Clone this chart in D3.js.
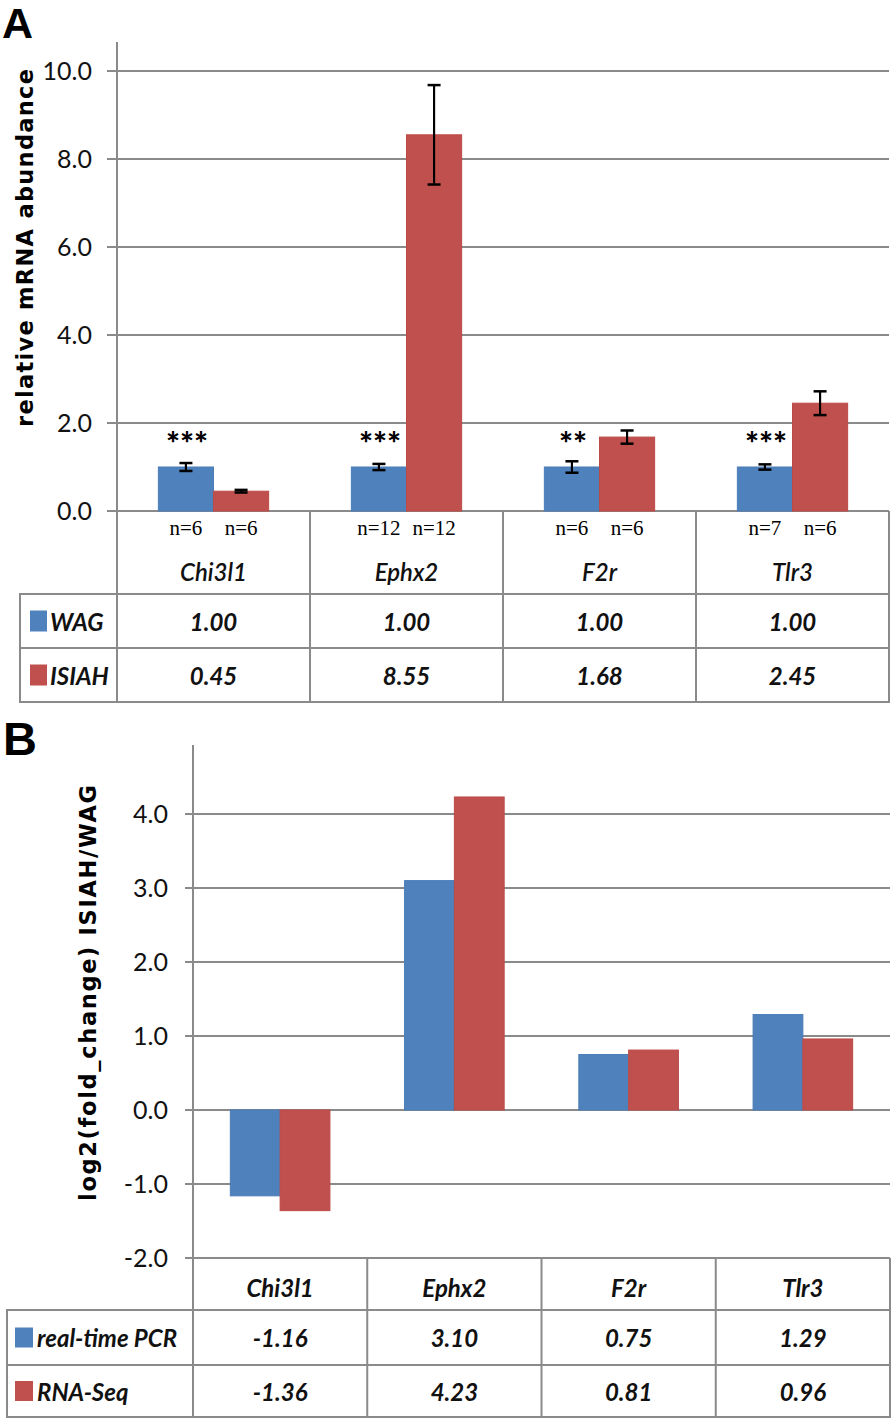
<!DOCTYPE html>
<html>
<head>
<meta charset="utf-8">
<script src="https://cdn.jsdelivr.net/npm/d3@7"></script>
<style>
  html, body { margin: 0; padding: 0; background: #fff; }
  svg { display: block; }
</style>
</head>
<body>
<svg id="chart" width="894" height="1422"></svg>
<script>
// ---------------- data ----------------
const genes = ["Chi3l1", "Ephx2", "F2r", "Tlr3"];
// Panel A: relative mRNA abundance
const wagValues = [1.00, 1.00, 1.00, 1.00];
const isiahValues = [0.45, 8.55, 1.68, 2.45];
const wagErr = [0.09, 0.07, 0.13, 0.06];
const isiahErr = [0.03, 1.13, 0.15, 0.27];
const wagN = [6, 12, 6, 7];
const isiahN = [6, 12, 6, 6];
const significance = ["***", "***", "**", "***"];
const ticksA = [0, 2, 4, 6, 8, 10];
const seriesA = ["WAG", "ISIAH"];
// Panel B: log2(fold change)
const pcrValues = [-1.16, 3.10, 0.75, 1.29];
const rnaSeqValues = [-1.36, 4.23, 0.81, 0.96];
const ticksB = [-2, -1, 0, 1, 2, 3, 4];
const seriesB = ["real-time PCR", "RNA-Seq"];

// ---------------- style ----------------
const BLUE = "#4F81BD", BLUE_S = "#4A7DB8";
const RED = "#C0504D", RED_S = "#BC4A47";
const GRID = "#8a8a8a";
const FONT = "Lato, 'Open Sans', sans-serif";
const LABELFONT = "'DejaVu Sans', Verdana, sans-serif";
const TFS = 24; // table font size

const svg = d3.select("#chart");
svg.append("rect").attr("width", 894).attr("height", 1422).attr("fill", "#fff");

// =============== PANEL A ===============
const A = { left: 117, right: 889, top: 42, tableL: 20, hdrBot: 594, row2: 648, bottom: 702 };
const yA = d3.scaleLinear().domain([0, 10]).range([511, 71]);
const xA = d3.scaleBand().domain(genes).range([A.left, A.right]);
const bwA = xA.bandwidth() / 3.5;

svg.append("text").text("A").attr("x", 2).attr("y", 38)
  .attr("font-family", "'Liberation Sans', Arial, sans-serif").attr("font-weight", "bold")
  .attr("font-size", 43).attr("fill", "#000");

const gA = svg.append("g");
gA.selectAll("line.grid").data(ticksA).join("line")
  .attr("x1", A.left - 10).attr("x2", A.right)
  .attr("y1", d => yA(d)).attr("y2", d => yA(d))
  .attr("stroke", GRID).attr("stroke-width", 2);
const axA = gA.append("g").attr("transform", `translate(${A.left},0)`)
  .call(d3.axisLeft(yA).tickValues(ticksA).tickSize(0).tickPadding(25).tickFormat(d => d.toFixed(1)));
axA.select(".domain").remove();
axA.selectAll("text").attr("font-family", FONT).attr("font-size", 25).attr("fill", "#111");

svg.append("text").text("relative mRNA abundance")
  .attr("transform", "translate(25,248) rotate(-90)")
  .attr("text-anchor", "middle").attr("dominant-baseline", "central")
  .attr("font-family", LABELFONT).attr("font-weight", "bold").attr("font-size", 22.5)
  .attr("textLength", 358).attr("lengthAdjust", "spacing").attr("fill", "#000");

const barsA = genes.map((g, i) => ({ g, i }));
gA.selectAll("rect.wag").data(barsA).join("rect")
  .attr("x", d => xA(d.g) + xA.bandwidth() / 2 - bwA).attr("width", bwA)
  .attr("y", d => yA(wagValues[d.i])).attr("height", d => yA(0) - yA(wagValues[d.i]))
  .attr("fill", BLUE).attr("stroke", BLUE_S).attr("stroke-width", 1);
gA.selectAll("rect.isiah").data(barsA).join("rect")
  .attr("x", d => xA(d.g) + xA.bandwidth() / 2).attr("width", bwA)
  .attr("y", d => yA(isiahValues[d.i])).attr("height", d => yA(0) - yA(isiahValues[d.i]))
  .attr("fill", RED).attr("stroke", RED_S).attr("stroke-width", 1);

const errData = [];
genes.forEach((g, i) => {
  errData.push({ cx: xA(g) + xA.bandwidth() / 2 - bwA / 2, v: wagValues[i], e: wagErr[i] });
  errData.push({ cx: xA(g) + xA.bandwidth() / 2 + bwA / 2, v: isiahValues[i], e: isiahErr[i] });
});
const eg = gA.selectAll("g.err").data(errData).join("g");
eg.append("line").attr("x1", d => d.cx).attr("x2", d => d.cx)
  .attr("y1", d => yA(d.v + d.e)).attr("y2", d => yA(d.v - d.e))
  .attr("stroke", "#000").attr("stroke-width", 2.2);
eg.append("line").attr("x1", d => d.cx - 6.5).attr("x2", d => d.cx + 6.5)
  .attr("y1", d => yA(d.v + d.e)).attr("y2", d => yA(d.v + d.e))
  .attr("stroke", "#000").attr("stroke-width", 2.5);
eg.append("line").attr("x1", d => d.cx - 6.5).attr("x2", d => d.cx + 6.5)
  .attr("y1", d => yA(d.v - d.e)).attr("y2", d => yA(d.v - d.e))
  .attr("stroke", "#000").attr("stroke-width", 2.5);

gA.selectAll("text.sig").data(barsA).join("text")
  .text(d => significance[d.i])
  .attr("x", d => xA(d.g) + xA.bandwidth() / 2 - bwA / 2 + 1)
  .attr("y", d => yA(wagValues[d.i]) - 12)
  .attr("text-anchor", "middle")
  .attr("font-family", FONT).attr("font-weight", "900").attr("font-size", 33).attr("fill", "#000");

const nData = [];
genes.forEach((g, i) => {
  nData.push({ x: xA(g) + xA.bandwidth() / 2 - bwA / 2, n: wagN[i] });
  nData.push({ x: xA(g) + xA.bandwidth() / 2 + bwA / 2, n: isiahN[i] });
});
gA.selectAll("text.n").data(nData).join("text")
  .text(d => "n=" + d.n).attr("x", d => d.x).attr("y", 528)
  .attr("text-anchor", "middle").attr("dominant-baseline", "central")
  .attr("font-family", "'Liberation Serif', 'Times New Roman', serif").attr("font-size", 21).attr("fill", "#000");

const tA = svg.append("g").attr("stroke", GRID).attr("stroke-width", 2);
tA.append("line").attr("x1", A.left).attr("x2", A.left).attr("y1", A.top).attr("y2", A.bottom + 1);
tA.selectAll("line.col").data(genes).join("line")
  .attr("x1", d => xA(d) + xA.bandwidth()).attr("x2", d => xA(d) + xA.bandwidth())
  .attr("y1", yA(0)).attr("y2", A.bottom + 1);
tA.append("line").attr("x1", A.tableL).attr("x2", A.tableL).attr("y1", A.hdrBot - 1).attr("y2", A.bottom + 1);
tA.selectAll("line.row").data([A.hdrBot, A.row2, A.bottom]).join("line")
  .attr("x1", A.tableL).attr("x2", A.right).attr("y1", d => d).attr("y2", d => d);

svg.append("g").selectAll("text").data(genes).join("text")
  .text(d => d).attr("x", d => xA(d) + xA.bandwidth() / 2).attr("y", 571)
  .attr("text-anchor", "middle").attr("dominant-baseline", "central")
  .attr("font-family", FONT).attr("font-style", "italic").attr("font-weight", "600")
  .attr("font-size", TFS).attr("fill", "#111");

const rowsA = [
  { name: seriesA[0], vals: wagValues, color: BLUE, y: (A.hdrBot + A.row2) / 2 },
  { name: seriesA[1], vals: isiahValues, color: RED, y: (A.row2 + A.bottom) / 2 }
];
rowsA.forEach(r => {
  const g = svg.append("g");
  g.append("rect").attr("x", 30).attr("y", r.y - 10.5).attr("width", 17).attr("height", 21).attr("fill", r.color);
  g.append("text").text(r.name).attr("x", 50).attr("y", r.y)
    .attr("dominant-baseline", "central").attr("font-family", FONT)
    .attr("font-style", "italic").attr("font-weight", "bold").attr("font-size", TFS).attr("fill", "#111");
  g.selectAll("text.v").data(genes).join("text")
    .text((d, i) => r.vals[i].toFixed(2))
    .attr("x", d => xA(d) + xA.bandwidth() / 2).attr("y", r.y)
    .attr("text-anchor", "middle").attr("dominant-baseline", "central")
    .attr("font-family", FONT).attr("font-style", "italic").attr("font-weight", "bold")
    .attr("font-size", TFS).attr("fill", "#111");
});

// =============== PANEL B ===============
const B = { left: 193, right: 890, top: 745, tableL: 7, hdrBot: 1310, row2: 1365, bottom: 1417 };
const yB = d3.scaleLinear().domain([-2, 4]).range([1258, 814]);
const xB = d3.scaleBand().domain(genes).range([B.left, B.right]);
const bwB = xB.bandwidth() / 3.5;

svg.append("text").text("B").attr("x", 3).attr("y", 755)
  .attr("font-family", "'Liberation Sans', Arial, sans-serif").attr("font-weight", "bold")
  .attr("font-size", 47).attr("fill", "#000");

const gB = svg.append("g");
gB.selectAll("line.grid").data(ticksB).join("line")
  .attr("x1", B.left - 8).attr("x2", B.right)
  .attr("y1", d => yB(d)).attr("y2", d => yB(d))
  .attr("stroke", GRID).attr("stroke-width", 2);
const axB = gB.append("g").attr("transform", `translate(${B.left},0)`)
  .call(d3.axisLeft(yB).tickValues(ticksB).tickSize(0).tickPadding(25).tickFormat(d => d.toFixed(1)));
axB.select(".domain").remove();
axB.selectAll("text").attr("font-family", FONT).attr("font-size", 25).attr("fill", "#111");

svg.append("text").text("log2(fold_change) ISIAH/WAG")
  .attr("transform", "translate(88,993) rotate(-90)")
  .attr("text-anchor", "middle").attr("dominant-baseline", "central")
  .attr("font-family", LABELFONT).attr("font-weight", "bold").attr("font-size", 22.5)
  .attr("textLength", 416).attr("lengthAdjust", "spacing").attr("fill", "#000");

const barsB = genes.map((g, i) => ({ g, i }));
gB.selectAll("rect.pcr").data(barsB).join("rect")
  .attr("x", d => xB(d.g) + xB.bandwidth() / 2 - bwB).attr("width", bwB)
  .attr("y", d => Math.min(yB(0), yB(pcrValues[d.i])))
  .attr("height", d => Math.abs(yB(0) - yB(pcrValues[d.i])))
  .attr("fill", BLUE).attr("stroke", BLUE_S).attr("stroke-width", 1);
gB.selectAll("rect.rna").data(barsB).join("rect")
  .attr("x", d => xB(d.g) + xB.bandwidth() / 2).attr("width", bwB)
  .attr("y", d => Math.min(yB(0), yB(rnaSeqValues[d.i])))
  .attr("height", d => Math.abs(yB(0) - yB(rnaSeqValues[d.i])))
  .attr("fill", RED).attr("stroke", RED_S).attr("stroke-width", 1);

const tB = svg.append("g").attr("stroke", GRID).attr("stroke-width", 2);
tB.append("line").attr("x1", B.left).attr("x2", B.left).attr("y1", B.top).attr("y2", B.bottom + 1);
tB.selectAll("line.col").data(genes).join("line")
  .attr("x1", d => xB(d) + xB.bandwidth()).attr("x2", d => xB(d) + xB.bandwidth())
  .attr("y1", yB(-2)).attr("y2", B.bottom + 1);
tB.append("line").attr("x1", B.tableL).attr("x2", B.tableL).attr("y1", B.hdrBot - 1).attr("y2", B.bottom + 1);
tB.selectAll("line.row").data([B.hdrBot, B.row2, B.bottom]).join("line")
  .attr("x1", B.tableL).attr("x2", B.right).attr("y1", d => d).attr("y2", d => d);

svg.append("g").selectAll("text").data(genes).join("text")
  .text(d => d).attr("x", d => xB(d) + xB.bandwidth() / 2).attr("y", 1287)
  .attr("text-anchor", "middle").attr("dominant-baseline", "central")
  .attr("font-family", FONT).attr("font-style", "italic").attr("font-weight", "bold")
  .attr("font-size", TFS).attr("fill", "#111");

const rowsB = [
  { name: seriesB[0], vals: pcrValues, color: BLUE, y: (B.hdrBot + B.row2) / 2 },
  { name: seriesB[1], vals: rnaSeqValues, color: RED, y: (B.row2 + B.bottom) / 2 }
];
rowsB.forEach(r => {
  const g = svg.append("g");
  g.append("rect").attr("x", 15).attr("y", r.y - 10).attr("width", 18).attr("height", 20).attr("fill", r.color);
  g.append("text").text(r.name).attr("x", 37).attr("y", r.y)
    .attr("dominant-baseline", "central").attr("font-family", FONT)
    .attr("font-style", "italic").attr("font-weight", "bold").attr("font-size", TFS).attr("fill", "#111");
  g.selectAll("text.v").data(genes).join("text")
    .text((d, i) => r.vals[i].toFixed(2))
    .attr("x", d => xB(d) + xB.bandwidth() / 2).attr("y", r.y)
    .attr("text-anchor", "middle").attr("dominant-baseline", "central")
    .attr("font-family", FONT).attr("font-style", "italic").attr("font-weight", "bold")
    .attr("font-size", TFS).attr("fill", "#111");
});
</script>
</body>
</html>
